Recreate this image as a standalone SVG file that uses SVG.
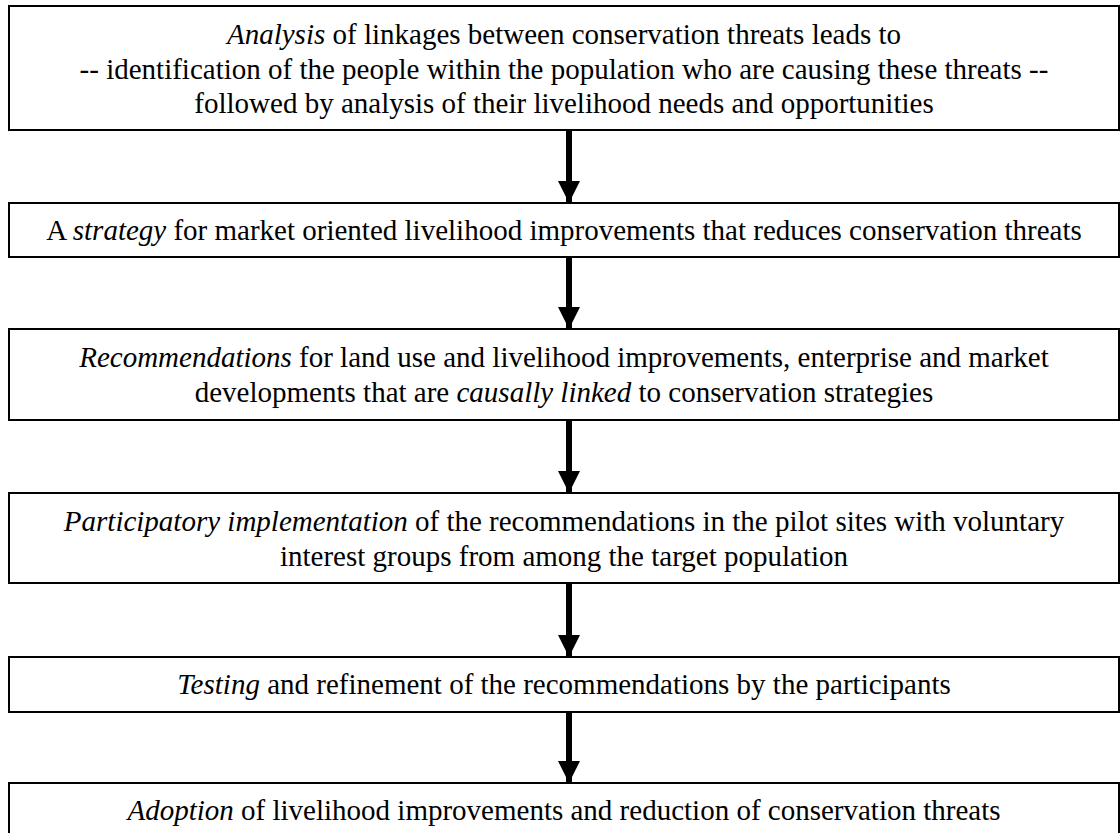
<svg xmlns="http://www.w3.org/2000/svg" width="1120" height="833" viewBox="0 0 1120 833">
<defs>
<marker id="ah" markerUnits="userSpaceOnUse" markerWidth="22" markerHeight="22" refX="22" refY="11" orient="auto">
<path d="M0,0 L22,11 L0,22 Z" fill="#000"/>
</marker>
</defs>
<rect width="1120" height="833" fill="#fff"/>
<g id="connectors" stroke="#000" stroke-width="6">
<line x1="569" y1="131" x2="569" y2="203" marker-end="url(#ah)"/>
<line x1="569" y1="258" x2="569" y2="329" marker-end="url(#ah)"/>
<line x1="569" y1="421" x2="569" y2="493" marker-end="url(#ah)"/>
<line x1="569" y1="584" x2="569" y2="657" marker-end="url(#ah)"/>
<line x1="569" y1="713" x2="569" y2="783" marker-end="url(#ah)"/>
</g>
<g id="n1">
<rect x="9" y="6" width="1110" height="124" fill="#fff" stroke="#000" stroke-width="2"/>
<text x="564" y="44" style="font-family:'Liberation Serif';font-size:29px" text-anchor="middle"><tspan style="font-style:italic">Analysis</tspan> of linkages between conservation threats leads to</text>
<text x="564" y="79" style="font-family:'Liberation Serif';font-size:29px" text-anchor="middle">-- identification of the people within the population who are causing these threats --</text>
<text x="564" y="113" style="font-family:'Liberation Serif';font-size:29px" text-anchor="middle">followed by analysis of their livelihood needs and opportunities</text>
</g>
<g id="n2">
<rect x="9" y="203" width="1110" height="54" fill="#fff" stroke="#000" stroke-width="2"/>
<text x="564" y="240" style="font-family:'Liberation Serif';font-size:29px" text-anchor="middle">A <tspan style="font-style:italic">strategy</tspan> for market oriented livelihood improvements that reduces conservation threats</text>
</g>
<g id="n3">
<rect x="9" y="329" width="1110" height="91" fill="#fff" stroke="#000" stroke-width="2"/>
<text x="564" y="367" style="font-family:'Liberation Serif';font-size:29px" text-anchor="middle"><tspan style="font-style:italic">Recommendations</tspan> for land use and livelihood improvements, enterprise and market</text>
<text x="564" y="402" style="font-family:'Liberation Serif';font-size:29px" text-anchor="middle">developments that are <tspan style="font-style:italic">causally linked</tspan> to conservation strategies</text>
</g>
<g id="n4">
<rect x="9" y="493" width="1110" height="90" fill="#fff" stroke="#000" stroke-width="2"/>
<text x="564" y="531" style="font-family:'Liberation Serif';font-size:29px" text-anchor="middle"><tspan style="font-style:italic">Participatory implementation</tspan> of the recommendations in the pilot sites with voluntary</text>
<text x="564" y="566" style="font-family:'Liberation Serif';font-size:29px" text-anchor="middle">interest groups from among the target population</text>
</g>
<g id="n5">
<rect x="9" y="657" width="1110" height="55" fill="#fff" stroke="#000" stroke-width="2"/>
<text x="564" y="694" style="font-family:'Liberation Serif';font-size:29px" text-anchor="middle"><tspan style="font-style:italic">Testing</tspan> and refinement of the recommendations by the participants</text>
</g>
<g id="n6">
<rect x="9" y="783" width="1110" height="56" fill="#fff" stroke="#000" stroke-width="2"/>
<text x="564" y="820" style="font-family:'Liberation Serif';font-size:29px" text-anchor="middle"><tspan style="font-style:italic">Adoption</tspan> of livelihood improvements and reduction of conservation threats</text>
</g>
</svg>
